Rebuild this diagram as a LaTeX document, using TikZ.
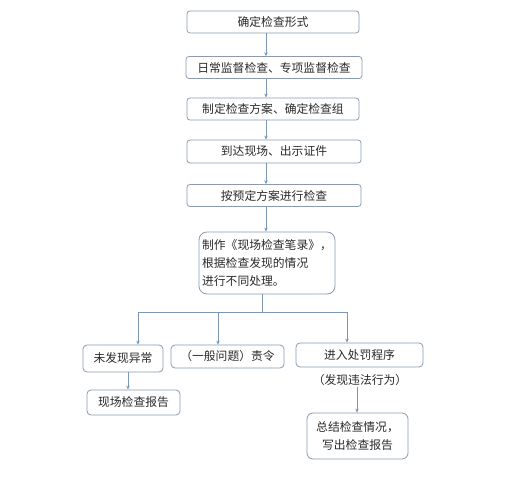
\documentclass[tikz,border=0pt]{standalone}
\usepackage{fontspec}
\setmainfont{Noto Sans CJK SC}
\usetikzlibrary{arrows.meta}
\definecolor{bord}{HTML}{8A9BB0}
\definecolor{arr}{HTML}{7C97B5}
\definecolor{txt}{HTML}{2A2A2A}
\tikzset{
  box/.style={draw=bord, line width=0.8pt, rounded corners=3pt, inner sep=0pt, text=txt, font=\fontsize{11.8}{18}\selectfont},
  conn/.style={draw=arr, line width=0.8pt, -{Stealth[length=4pt,width=3.5pt]}},
  plain/.style={draw=arr, line width=0.8pt}
}
\begin{document}
\begin{tikzpicture}[x=1pt,y=-1pt]
\useasboundingbox[fill=white] (0,0) rectangle (507,500);
\node[box, minimum width=172pt, minimum height=22pt] (b1) at (273,22) {确定检查形式};
\node[box, minimum width=176pt, minimum height=22pt] (b2) at (274,67.5) {日常监督检查、专项监督检查};
\node[box, minimum width=172pt, minimum height=22pt] (b3) at (273,109) {制定检查方案、确定检查组};
\node[box, minimum width=174pt, minimum height=23pt] (b4) at (274,151.5) {到达现场、出示证件};
\node[box, minimum width=174pt, minimum height=22pt] (b5) at (274,195.5) {按预定方案进行检查};
\node[box, rounded corners=8pt, minimum width=136pt, minimum height=62pt, align=left] (b6) at (267,263) {制作《现场检查笔录》，\\根据检查发现的情况\\进行不同处理。};
\node[box, rounded corners=4pt, minimum width=80pt, minimum height=27pt] (c1) at (123,358.5) {未发现异常};
\node[box, rounded corners=4pt, minimum width=113pt, minimum height=23pt] (c2) at (227.5,356.5) {（一般问题）责令};
\node[box, rounded corners=4pt, minimum width=127pt, minimum height=24pt] (c3) at (359.5,355) {进入处罚程序};
\node[text=txt, font=\fontsize{11.8}{14}\selectfont, inner sep=1pt] (lbl) at (360,380) {（发现违法行为）};
\node[box, rounded corners=4pt, minimum width=93pt, minimum height=25pt] (d1) at (133.5,402.5) {现场检查报告};
\node[box, rounded corners=6pt, minimum width=101pt, minimum height=46pt, align=center] (d2) at (357.5,436) {总结检查情况，\\写出检查报告};
\draw[conn] (b1.south -| 266,0) -- (b2.north -| 266,0);
\draw[conn] (b2.south -| 266,0) -- (b3.north -| 266,0);
\draw[conn] (b3.south -| 266,0) -- (b4.north -| 266,0);
\draw[conn] (b4.south -| 266,0) -- (b5.north -| 266,0);
\draw[conn] (b5.south -| 266,0) -- (b6.north -| 266,0);
\coordinate (hub) at (262,312);
\coordinate (hl) at (138,312);
\coordinate (hm) at (218,312);
\coordinate (hr) at (347,312);
\draw[plain] (b6.south -| hub) -- (hub);
\draw[plain] (hl) -- (hr);
\draw[conn] (hl) -- (c1.north -| hl);
\draw[conn] (hm) -- (c2.north -| hm);
\draw[conn] (hr) -- (c3.north -| hr);
\draw[conn] (c1.south -| 128,0) -- (d1.north -| 128,0);
\draw[conn] (lbl.south -| 357,0) -- (d2.north -| 357,0);
\end{tikzpicture}
\end{document}
